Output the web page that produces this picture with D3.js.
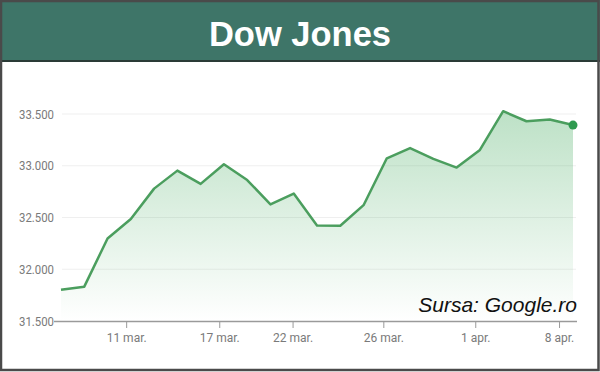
<!DOCTYPE html>
<html><head><meta charset="utf-8">
<script src="https://cdn.jsdelivr.net/npm/d3@7"></script>
<style>body{margin:0;background:#fff}svg{display:block}</style>
</head><body>
<svg id="c" width="600" height="372"></svg>
<script>
const dates = ["8 mar.","9 mar.","10 mar.","11 mar.","12 mar.","15 mar.","16 mar.","17 mar.","18 mar.","19 mar.","22 mar.","23 mar.","24 mar.","25 mar.","26 mar.","29 mar.","30 mar.","31 mar.","1 apr.","5 apr.","6 apr.","7 apr.","8 apr."];
const values = [31802,31832,32297,32485,32779,32953,32825,33015,32862,32627,32731,32423,32420,32619,33072,33171,33066,32982,33153,33527,33430,33446,33393];
const yTicks = [31500,32000,32500,33000,33500];
const xTickLabels = ["11 mar.","17 mar.","22 mar.","26 mar.","1 apr.","8 apr."];
const xTickAt = [2.8,6.8,9.95,13.85,17.8,21.4];
const title = "Dow Jones";
const source = "Sursa: Google.ro";

const svg = d3.select("#c");
const W=600,H=372;
svg.append("rect").attr("x",0).attr("y",0).attr("width",W).attr("height",H).attr("fill","#fff");

const x = d3.scaleLinear().domain([0,values.length-1]).range([61,573]);
const y = d3.scaleLinear().domain([31500,33500]).range([321,114]);

const defs = svg.append("defs");
const g = defs.append("linearGradient").attr("id","gr").attr("x1",0).attr("x2",0)
  .attr("gradientUnits","userSpaceOnUse").attr("y1",y(33500)).attr("y2",y(31500));
g.append("stop").attr("offset","0").attr("stop-color","#3fa85a").attr("stop-opacity",0.34);
g.append("stop").attr("offset","1").attr("stop-color","#3fa85a").attr("stop-opacity",0.0);

svg.append("g").selectAll("line").data(yTicks.slice(1)).join("line")
  .attr("x1",62).attr("x2",576).attr("y1",d=>y(d)).attr("y2",d=>y(d))
  .attr("stroke","#efefef").attr("stroke-width",1);

svg.append("path").datum(values)
  .attr("d",d3.area().x((d,i)=>x(i)).y0(y(31500)).y1(d=>y(d)))
  .attr("fill","url(#gr)");
svg.append("path").datum(values)
  .attr("d",d3.line().x((d,i)=>x(i)).y(d=>y(d)))
  .attr("fill","none").attr("stroke","#4b9e5e").attr("stroke-width",2.5).attr("stroke-linejoin","round");
svg.append("circle").attr("cx",x(values.length-1)).attr("cy",y(values[values.length-1])).attr("r",4.5).attr("fill","#2f9a4f");

const fmt = d=>d3.format(",")(d).replace(",",".");
svg.append("g").selectAll("text").data(yTicks).join("text")
  .attr("x",54).attr("y",d=>y(d)+4.5).attr("text-anchor","end")
  .attr("font-family","Roboto, sans-serif").attr("font-size",12.5).attr("fill","#7a7a7a")
  .attr("textLength",35).attr("lengthAdjust","spacingAndGlyphs")
  .text(fmt);

const xa = d3.axisBottom(x).tickValues(xTickAt).tickFormat((d,i)=>xTickLabels[i]).tickSize(7).tickSizeOuter(0);
const ax = svg.append("g").attr("transform",`translate(0,${y(31500)})`).call(xa);
ax.select(".domain").attr("d","M54,0.5H577").attr("stroke","#9a9a9a").attr("stroke-width",1.5);
ax.selectAll(".tick line").attr("stroke","#9a9a9a");
ax.selectAll(".tick text").attr("font-family","Roboto, sans-serif").attr("font-size",12).attr("fill","#7a7a7a").attr("dy","0.95em");

svg.append("text").attr("x",577).attr("y",312).attr("text-anchor","end")
  .attr("font-family","Liberation Sans, Arial, sans-serif").attr("font-style","italic").attr("font-size",21).attr("fill","#111")
  .text(source);

svg.append("rect").attr("x",0).attr("y",0).attr("width",W).attr("height",61).attr("fill","#3e7568");
svg.append("line").attr("x1",0).attr("x2",W).attr("y1",61).attr("y2",61).attr("stroke","#2a3b36").attr("stroke-width",2);
svg.append("text").attr("x",300).attr("y",46).attr("text-anchor","middle")
  .attr("font-family","Liberation Sans, Arial, sans-serif").attr("font-weight","bold").attr("font-size",34.5).attr("fill","#fff")
  .text(title);
svg.append("rect").attr("x",1).attr("y",1).attr("width",W-2.5).attr("height",H-3).attr("fill","none").attr("stroke","#4a4a4a").attr("stroke-width",2.5);
</script>
</body></html>
